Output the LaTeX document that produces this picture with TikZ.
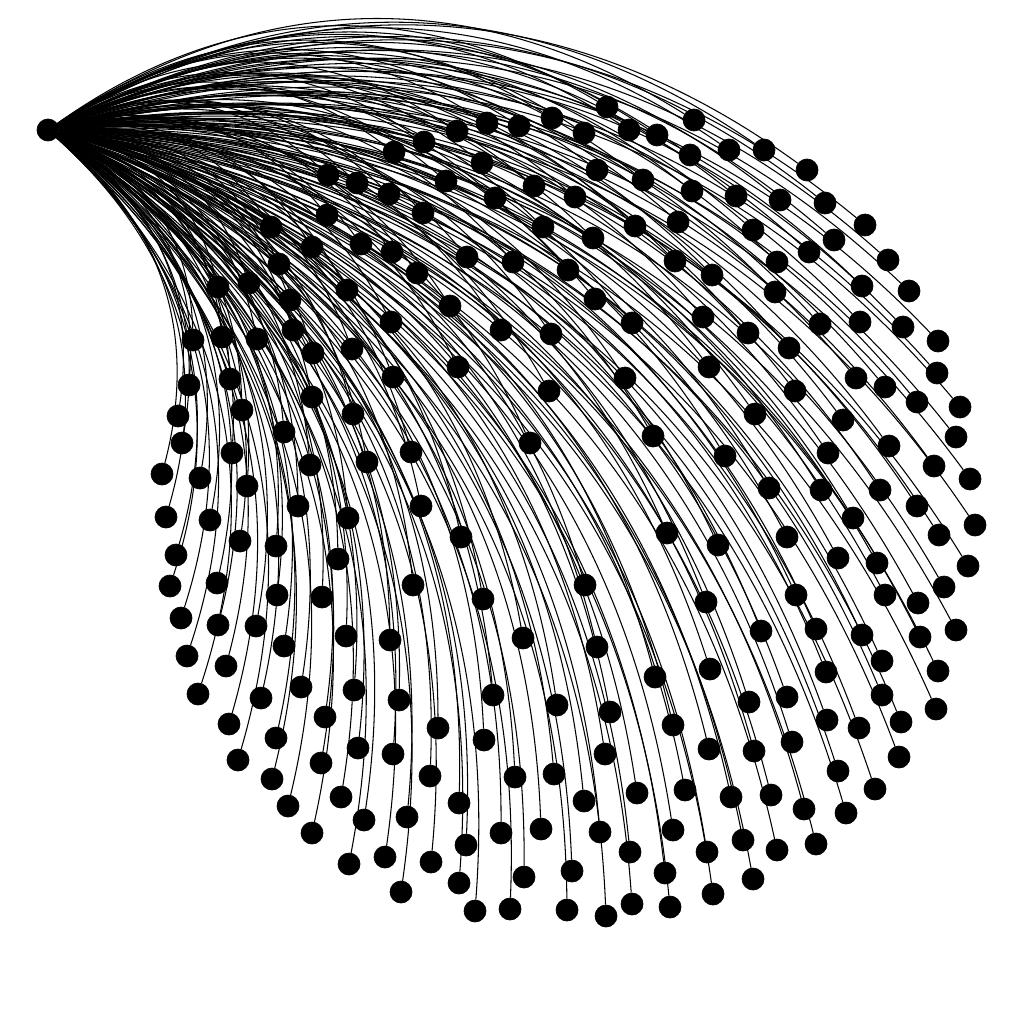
\documentclass[tikz,border=0pt]{standalone}
\usepackage{tikz}
\usetikzlibrary{backgrounds}

\begin{document}
\begin{tikzpicture}[x=0.02cm, y=-0.02cm,
    vtx/.style={circle, draw=black, fill=black, line width=0.4pt, inner sep=0pt, minimum size=0.44cm},
    spoke/.style={black, line width=0.6pt, bend left=33}]

\useasboundingbox (0,0) rectangle (1024,1024);

% hub
\node[vtx] (hub) at (48,130) {};

% leaves
\foreach \x/\y [count=\i] in {
  607/107, 694/120, 552/118, 519/126, 487/123, 457/131, 584/133, 629/130, 657/135,
  424/142, 394/152, 690/155, 729/150, 764/150, 482/163, 597/170, 643/180, 807/170,
  328/175, 357/183, 446/181, 534/186, 389/194, 495/198, 575/197, 692/191, 736/196, 780/200, 825/203,
  327/215, 423/213, 543/227, 635/226, 678/222, 753/230, 865/225, 271/227, 834/240, 809/252,
  312/247, 361/244, 392/252, 593/238, 467/257, 513/262, 568/270, 675/261, 712/275, 777/262, 279/264, 888/260, 417/273,
  218/287, 249/283, 347/290, 290/300, 450/306, 595/299, 775/292, 862/286, 909/291, 703/317,
  391/322, 501/330, 551/334, 632/323, 748/333, 820/324, 860/322, 903/327, 293/330, 222/337, 257/339, 193/340, 938/341, 789/348,
  313/353, 352/349, 458/367, 709/367, 393/377, 625/378, 230/379, 189/385, 856/378, 885/387, 937/373,
  549/391, 795/391, 917/402, 312/397, 242/410, 353/414, 755/414, 178/416, 843/420, 960/407,
  284/432, 182/443, 653/436, 889/446, 530/443, 956/437, 232/453, 411/452, 725/456, 828/453,
  162/474, 310/465, 367/462, 934/466, 200/478, 247/486, 769/488, 880/490, 821/490, 970/479,
  166/517, 298/506, 421/506, 210/520, 348/518, 853/518, 917/506, 975/525, 240/541, 461/537, 667/533, 787/537, 939/535,
  176/555, 276/546, 718/545, 338/559, 838/558, 877/563, 968/566, 585/585, 413/585, 217/583, 170/586, 944/587,
  277/595, 322/597, 483/599, 706/602, 796/595, 885/595, 918/603, 181/618,
  218/625, 256/626, 761/631, 816/629, 862/635, 920/637, 956/630, 346/636, 390/640, 523/638, 597/647, 284/646, 187/656,
  226/666, 882/661, 938/671, 710/669, 826/672, 655/677, 301/687, 354/690, 198/694, 261/698, 399/700, 493/695, 557/705, 749/702, 787/697, 882/695,
  610/712, 325/717, 438/728, 673/725, 792/742, 827/720, 859/728, 901/722, 936/709, 229/724, 276/738, 484/740,
  358/748, 393/754, 605/754, 709/749, 754/751, 899/757, 238/760, 321/763, 515/777, 554/774, 430/776, 838/771, 272/779,
  685/790, 637/793, 341/797, 584/801, 731/797, 771/795, 875/789, 459/803, 804/809, 288/806, 407/817, 846/813,
  364/820, 673/830, 541/829, 501/833, 600/832, 312/833, 466/845, 743/840, 630/852, 707/852, 777/850, 816/844,
  349/864, 385/857, 431/862, 572/871, 665/873, 753/879, 524/877, 459/883, 401/892, 713/894, 632/904, 670/907, 567/910, 606/916, 510/909, 475/911}
{
  \node[vtx] (v\i) at (\x,\y) {};
  \xdef\nleaves{\i}
}

% spokes
\begin{pgfonlayer}{background}
\foreach \i in {1,...,\nleaves}
  \draw[spoke] (hub) to (v\i);
\end{pgfonlayer}
\end{tikzpicture}
\end{document}
